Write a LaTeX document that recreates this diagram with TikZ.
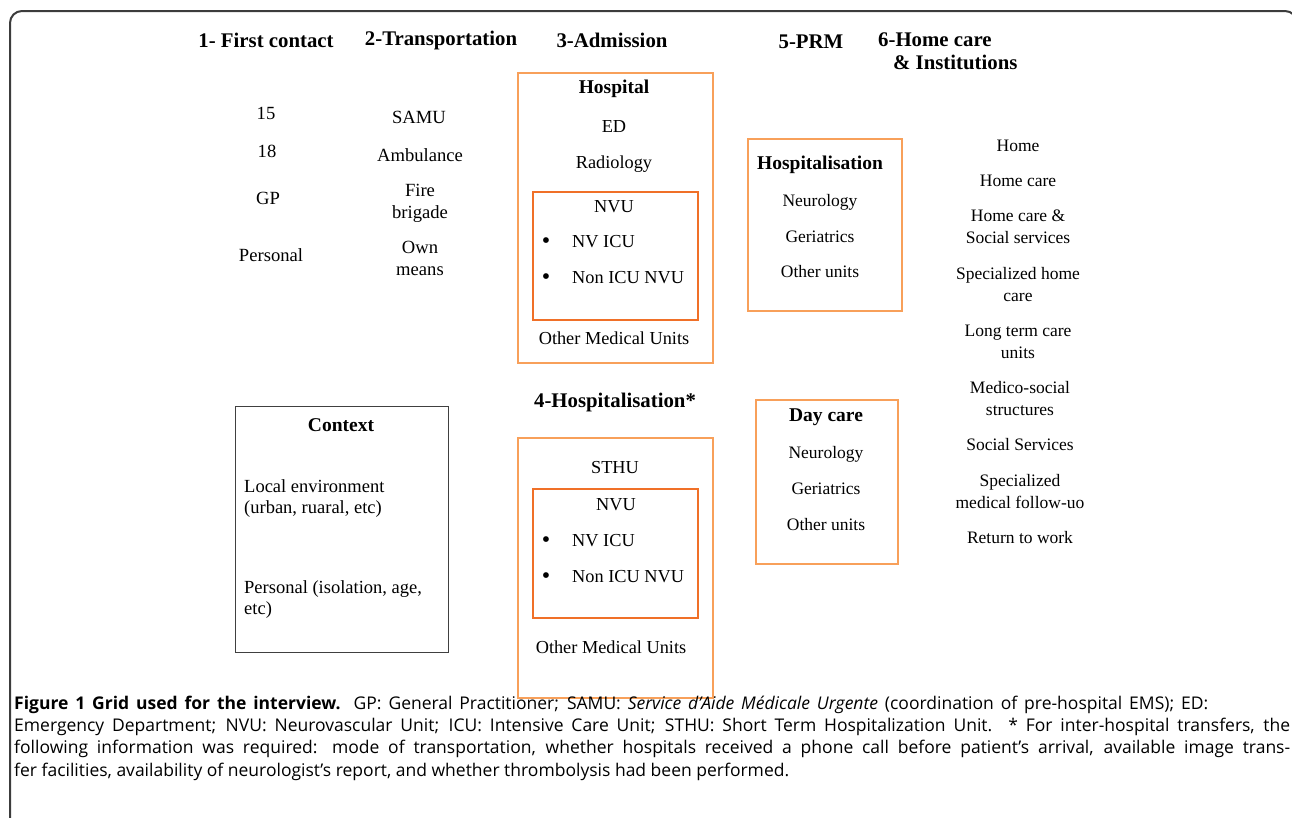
\documentclass[tikz,border=0pt]{standalone}
\usepackage{fontspec}
\setmainfont{Liberation Serif}
\newfontfamily\capfont{Open Sans}
\definecolor{orangeL}{RGB}{248,160,90}
\definecolor{orangeD}{RGB}{240,112,40}
\definecolor{frame}{RGB}{60,60,60}
\begin{document}
\begin{tikzpicture}[x=1pt,y=-1pt,
  hdr/.style={font=\fontsize{20.8}{23}\selectfont\bfseries, inner sep=0pt},
  ttl/.style={font=\fontsize{19.5}{23}\selectfont\bfseries, inner sep=0pt},
  txt/.style={font=\fontsize{17.5}{22}\selectfont, inner sep=0pt, align=center},
  txtA/.style={font=\fontsize{18.6}{22}\selectfont, inner sep=0pt, align=center},
  txtB/.style={font=\fontsize{18.3}{22}\selectfont, inner sep=0pt, align=center},
  ltxt/.style={font=\fontsize{18.3}{21}\selectfont, inner sep=0pt, anchor=west, align=left},
  ctxtxt/.style={font=\fontsize{18.5}{21}\selectfont, inner sep=0pt, anchor=west, align=left},
  bul/.style={font=\fontsize{24}{24}\selectfont, inner sep=0pt},
  obox/.style={draw=orangeL, line width=1.6pt, inner sep=0pt, anchor=north west},
  ibox/.style={draw=orangeD, line width=1.6pt, inner sep=0pt, anchor=north west},
  cbox/.style={draw=black!75, line width=1.3pt, inner sep=0pt, anchor=north west},
  captxt/.style={font=\capfont\fontsize{17.5}{22}\selectfont, inner sep=0pt, anchor=west}]
\useasboundingbox (0,0) rectangle (1292,817);
\begin{scope}
\clip (0,0) rectangle (1292,817);
\draw[line width=2pt, draw=frame, rounded corners=12pt] (10,840) -- (10,11) -- (1297,11) -- (1297,840);
\end{scope}

% headers
\node[hdr] (h1) at (266,40) {1- First contact};
\node[hdr] (h2) at (441,40) {2-Transportation};
\node[hdr] (h3) at (612,40) {3-Admission};
\node[hdr] (h5) at (811,42) {5-PRM};
\node[hdr, align=left, anchor=west] (h6) at (878,51) {6-Home care\\\hspace{15pt}\& Institutions};

% column 1
\node[txtA] (c15) at (266,113) {15};
\node[txtA] (c18) at (267,151) {18};
\node[txtA] (cgp) at (268,198) {GP};
\node[txtA] (cpers) at (271,255) {Personal};

% column 2
\node[txtA] (samu) at (419,117) {SAMU};
\node[txtA] (amb) at (420,155) {Ambulance};
\node[txtA] (fire) at (420,203) {Fire\\brigade};
\node[txtA] (own) at (420,258) {Own\\means};

% admission box
\node[obox, minimum width=195pt, minimum height=290pt] (hosp) at (517,72) {};
\node[ttl] (hosptl) at (614,89) {Hospital};
\node[txtB] (ed) at (614,127) {ED};
\node[txtB] (rad) at (614,164) {Radiology};
\node[ibox, minimum width=165pt, minimum height=128pt] (nvu1) at (532,191) {};
\node[txtB] (nvu1t) at (614,207) {NVU};
\node[bul] (b1a) at (546,243) {\textbullet};
\node[ltxt] (nvicu1) at (572,242) {NV ICU};
\node[bul] (b1b) at (546,279) {\textbullet};
\node[ltxt] (non1) at (572,278) {Non ICU NVU};
\node[txtB] (omu1) at (614,338) {Other Medical Units};

% hospitalisation 4
\node[hdr] (h4) at (615,402) {4-Hospitalisation*};
\node[obox, minimum width=195pt, minimum height=260pt] (hosp4) at (517,437) {};
\node[txtB] (sthu) at (615,468) {STHU};
\node[ibox, minimum width=165pt, minimum height=129pt] (nvu2) at (532,488) {};
\node[txtB] (nvu2t) at (616,505) {NVU};
\node[bul] (b2a) at (546,542) {\textbullet};
\node[ltxt] (nvicu2) at (572,541) {NV ICU};
\node[bul] (b2b) at (546,578) {\textbullet};
\node[ltxt] (non2) at (572,577) {Non ICU NVU};
\node[txtB] (omu2) at (611,647) {Other Medical Units};

% context
\node[cbox, minimum width=213pt, minimum height=246pt] (ctx) at (235,406) {};
\node[ttl] (ctxt) at (341,425) {Context};
\node[ctxtxt] (loc) at (244,499) {Local environment\\(urban, ruaral, etc)};
\node[ctxtxt] (pers) at (244,600) {Personal (isolation, age,\\etc)};

% PRM hospitalisation
\node[obox, minimum width=154pt, minimum height=172pt] (prm1) at (747,138) {};
\node[ttl] (prm1t) at (820,165) {Hospitalisation};
\node[txt] (neu1) at (820,202) {Neurology};
\node[txt] (ger1) at (820,237) {Geriatrics};
\node[txt] (oth1) at (820,272) {Other units};

% day care
\node[obox, minimum width=142pt, minimum height=164pt] (day) at (755,399) {};
\node[ttl] (dayt) at (826,417) {Day care};
\node[txt] (neu2) at (826,454) {Neurology};
\node[txt] (ger2) at (826,489) {Geriatrics};
\node[txt] (oth2) at (826,525) {Other units};

% column 6
\node[txt] (home) at (1018,146) {Home};
\node[txt] (hcare) at (1018,181) {Home care};
\node[txt] (hcs) at (1018,227) {Home care \&\\Social services};
\node[txt] (shc) at (1018,285) {Specialized home\\care};
\node[txt] (ltc) at (1018,342) {Long term care\\units};
\node[txt] (mss) at (1020,399) {Medico-social\\structures};
\node[txt] (ss) at (1020,445) {Social Services};
\node[txt] (smf) at (1020,492) {Specialized\\medical follow-uo};
\node[txt] (rtw) at (1020,538) {Return to work};

% caption
\node[captxt] (cap1) at (14,705) {\makebox[1194pt][s]{\textbf{Figure 1 Grid used for the interview.} GP: General Practitioner; SAMU: \textit{Service d’Aide Médicale Urgente} (coordination of pre-hospital EMS); ED:}};
\node[captxt] (cap2) at (14,727) {\makebox[1276pt][s]{Emergency Department; NVU: Neurovascular Unit; ICU: Intensive Care Unit; STHU: Short Term Hospitalization Unit. * For inter-hospital transfers, the}};
\node[captxt] (cap3) at (14,749) {\makebox[1276pt][s]{following information was required: mode of transportation, whether hospitals received a phone call before patient’s arrival, available image trans-}};
\node[captxt] (cap4) at (14,772) {fer facilities, availability of neurologist’s report, and whether thrombolysis had been performed.};
\end{tikzpicture}
\end{document}
